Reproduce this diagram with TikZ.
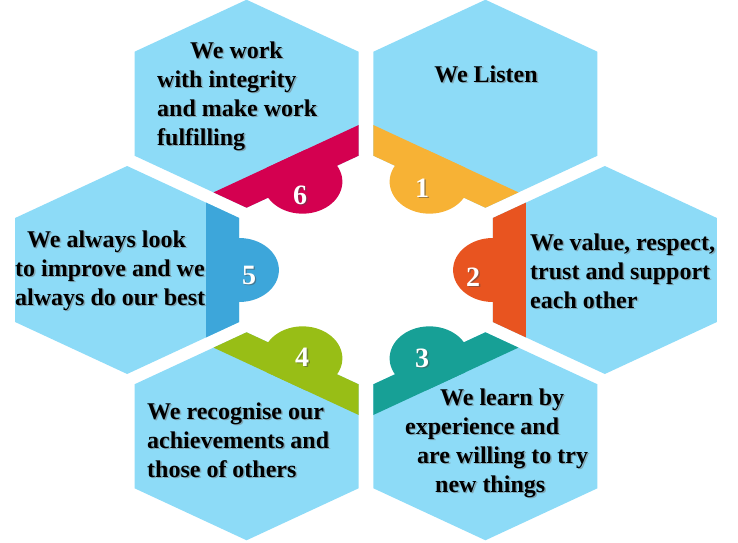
\documentclass[tikz,border=0pt]{standalone}
\usepackage{fontspec}
\setmainfont{Liberation Serif}
\usetikzlibrary{positioning}

\definecolor{hexblue}{RGB}{141,219,247}
\definecolor{tabred}{RGB}{212,0,80}
\definecolor{taborange}{RGB}{247,178,53}
\definecolor{tabvermil}{RGB}{232,84,32}
\definecolor{tabteal}{RGB}{23,160,150}
\definecolor{tabgreen}{RGB}{152,190,22}
\definecolor{tabblue}{RGB}{61,166,218}

% one hexagon with its coloured band and tab, facing the centre
\newcommand{\valuehex}[2]{%
  \begin{scope}[shift={(#1:192)}, rotate=#1+180]
    \fill[hexblue] (30:104) -- (90:104) -- (150:104) -- (210:104) -- (270:104) -- (330:104) -- cycle;
    \begin{scope}
      \clip (30:104) -- (90:104) -- (150:104) -- (210:104) -- (270:104) -- (330:104) -- cycle;
      \fill[#2] (63.5,-110) rectangle (110,110);
    \end{scope}
    \begin{scope}
      \clip (63.5,-110) rectangle (140,110);
      \fill[#2] (90,0) circle (32);
    \end{scope}
  \end{scope}}

% text with its drop shadow
\newcommand{\valuetext}[4][]{%
  \node[valtext,#1,text=black!55,opacity=.5] (#2-s) at ([shift={(1.5,-1.5)}]#3) {#4};
  \node[valtext,#1] (#2) at (#3) {#4};}
\newcommand{\valuenum}[3]{%
  \node[valnum,text=black!70,opacity=.5] (#1-s) at ([shift={(1.5,-1.5)}]#2) {#3};
  \node[valnum] (#1) at (#2) {#3};}

\begin{document}
\begin{tikzpicture}[x=1pt, y=1pt,
  valtext/.style={font=\fontsize{24}{29}\selectfont\bfseries, align=left, anchor=base west, inner sep=0pt},
  valnum/.style={font=\fontsize{28}{30}\selectfont\bfseries, text=white, inner sep=0pt}
]
\useasboundingbox (-366,-272) rectangle (372,270);
% six hexagons round the centre, stretched sideways
\begin{scope}[xscale=1.244]
  \foreach \ang/\col in {0/tabvermil,60/taborange,120/tabred,180/tabblue,240/tabgreen,300/tabteal}
    \valuehex{\ang}{\col};
\end{scope}
% numbers on the tabs
\valuenum{n1}{56,82}{1}
\valuenum{n2}{107,-7}{2}
\valuenum{n3}{56,-88}{3}
\valuenum{n4}{-64,-87}{4}
\valuenum{n5}{-117,-5}{5}
\valuenum{n6}{-66,75}{6}
% texts (base = last line)
\valuetext[anchor=base]{listen}{120,188}{We Listen}
\valuetext{value}{164,-38}{We value, respect,\\trust and support\\each other}
\valuetext{learn}{39,-222}{\hspace*{35pt}We learn by\\experience and\\\hspace*{12pt}are willing to try\\\hspace*{30pt}new things}
\valuetext{recognise}{-219,-207}{We recognise our\\achievements and\\those of others}
\valuetext{improve}{-351,-35}{\hspace*{12pt}We always look\\to improve and we\\always do our best}
\valuetext{integrity}{-209,125}{\hspace*{33pt}We work\\with integrity\\and make work\\fulfilling}
\end{tikzpicture}
\end{document}
